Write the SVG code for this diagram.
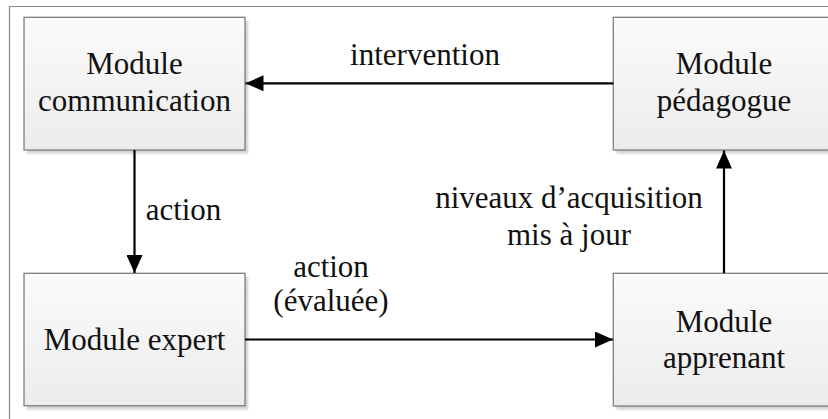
<svg xmlns="http://www.w3.org/2000/svg" width="828" height="419" viewBox="0 0 828 419">
  <defs>
    <linearGradient id="boxFill" x1="0" y1="0" x2="0" y2="1">
      <stop offset="0" stop-color="#fbfbfb"/>
      <stop offset="1" stop-color="#ececec"/>
    </linearGradient>
    <filter id="soft" x="-10%" y="-10%" width="120%" height="120%">
      <feGaussianBlur stdDeviation="1.2"/>
    </filter>
    <marker id="head" markerUnits="userSpaceOnUse" markerWidth="19" markerHeight="16" refX="18" refY="8" orient="auto">
      <path d="M0,0 L18,8 L0,16 z" fill="#000"/>
    </marker>
  </defs>
  <style>
    .frame { fill: none; stroke: #8a8a8a; stroke-width: 1.2; }
    .shadow { fill: #cfcfcf; filter: url(#soft); }
    .box { fill: url(#boxFill); stroke: #7f7f7f; stroke-width: 1.3; }
    text { font-family: 'Liberation Serif', 'Times New Roman', Times, 'DejaVu Serif', serif; font-size: 31px; fill: #111; text-anchor: middle; }
    .edge { fill: none; stroke: #000; stroke-width: 2.2; marker-end: url(#head); }
  </style>

  <rect width="828" height="419" fill="#fff"/>
  <!-- outer frame (left and top edges) -->
  <path class="frame" d="M9.5,419 V6.5 H828"/>

  <g id="module-communication" font-family="Liberation Serif, serif">
    <rect class="shadow" x="27" y="20.5" width="221" height="133"/>
    <rect class="box" x="24" y="17.3" width="221" height="132.7"/>
    <text x="134.5" y="74">Module</text>
    <text x="134.5" y="111">communication</text>
  </g>

  <g id="module-pedagogue" font-family="Liberation Serif, serif">
    <rect class="shadow" x="616.3" y="20.5" width="222" height="133"/>
    <rect class="box" x="613.3" y="17.3" width="222" height="132.7"/>
    <text x="724" y="74">Module</text>
    <text x="724" y="110.5">pédagogue</text>
  </g>

  <g id="module-expert" font-family="Liberation Serif, serif">
    <rect class="shadow" x="27" y="276.5" width="221" height="133"/>
    <rect class="box" x="24" y="273.3" width="221" height="132.4"/>
    <text x="134.5" y="350">Module expert</text>
  </g>

  <g id="module-apprenant" font-family="Liberation Serif, serif">
    <rect class="shadow" x="616.3" y="276.5" width="222" height="133"/>
    <rect class="box" x="613.3" y="273.3" width="222" height="132.7"/>
    <text x="724" y="331.7">Module</text>
    <text x="724" y="368.3">apprenant</text>
  </g>

  <g id="connectors" font-family="Liberation Serif, serif">
    <path class="edge" d="M613.3,83.3 H245.5"/>
    <text x="425" y="65">intervention</text>

    <path class="edge" d="M134.5,150 V273"/>
    <text x="183.5" y="220">action</text>

    <path class="edge" d="M245,339.5 H613"/>
    <text x="331" y="276.7">action</text>
    <text x="331" y="311">(évaluée)</text>

    <path class="edge" d="M724,273.3 V150.5"/>
    <text x="569" y="208">niveaux d’acquisition</text>
    <text x="569" y="245">mis à jour</text>
  </g>
</svg>
